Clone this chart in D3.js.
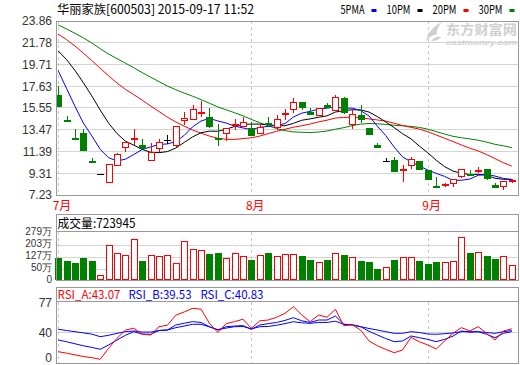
<!DOCTYPE html>
<html><head><meta charset="utf-8">
<script src="https://cdn.jsdelivr.net/npm/d3@7"></script>
<style>body{margin:0;background:#fff;}svg{display:block;}</style>
</head><body>
<svg id="c" width="520" height="365"></svg>
<script>
// ---- data ----
const title = "华丽家族[600503] 2015-09-17 11:52";
const months = ["7月", "8月", "9月"];
const monthStarts = [0, 23, 44];
const opens  = [16.79,14.40,12.70,13.13,10.50,9.24,8.35,10.03,11.69,12.64,11.98,10.45,11.60,12.52,11.94,14.33,14.37,15.05,14.68,12.68,13.03,13.93,13.76,13.66,13.03,14.10,13.60,14.95,15.32,16.09,15.19,14.78,15.83,15.29,16.47,13.92,14.88,13.60,12.01,10.51,10.58,9.65,10.03,10.48,9.62,8.09,8.15,8.25,8.98,9.27,9.58,9.69,8.19,7.97,8.63];
const highs  = [17.65,14.81,13.51,13.54,10.80,9.24,10.16,11.27,12.27,13.51,12.55,12.17,12.55,12.96,13.82,15.13,15.83,16.21,15.57,13.99,13.60,14.52,14.66,14.18,14.00,14.66,14.90,15.42,16.47,16.09,15.57,15.57,16.00,16.79,16.62,15.35,15.83,13.60,12.17,10.74,10.89,10.10,10.83,10.48,9.62,8.98,8.40,8.73,9.69,9.62,9.88,9.69,8.35,8.57,8.73];
const lows   = [15.60,14.18,12.65,11.40,10.26,9.24,8.35,10.03,11.37,12.01,11.63,10.45,11.31,12.10,11.85,13.92,14.37,14.71,13.66,11.88,12.39,13.47,13.76,12.90,13.03,13.95,13.44,14.40,15.04,15.35,14.90,14.78,15.54,15.29,14.94,13.51,14.14,12.97,11.69,10.41,9.46,8.50,9.69,9.62,8.66,7.87,8.02,8.02,8.83,9.18,9.30,8.66,7.87,7.71,8.35];
const closes = [15.67,14.18,12.65,11.46,10.46,9.24,10.16,11.12,12.27,12.72,11.63,11.37,12.32,12.52,13.82,14.62,15.42,15.13,13.76,12.61,13.60,13.99,14.24,12.90,13.76,14.03,14.52,15.05,16.09,15.57,14.90,15.57,15.54,16.57,15.04,14.94,14.40,12.97,11.69,10.51,9.46,9.72,10.64,9.62,8.66,7.87,8.25,8.73,9.69,9.24,9.66,8.73,7.87,8.57,8.68];
// moving-average values at the start of the window (earlier sessions are off the chart)
const ma5Lead  = [19.10,17.40,15.70,14.10];
const ma10Lead = [21.00,20.17,19.13,17.95,16.70,15.35,14.10,13.10,12.38];
const ma20Lead = [22.60,22.08,21.47,20.78,20.08,19.34,18.62,17.93,17.33,16.82,16.30,15.74,15.21,14.67,14.21,13.81,13.44,13.14,12.86];
const ma30Lead = [23.48,23.10,22.68,22.25,21.76,21.21,20.70,20.26,19.83,19.39,18.93,18.49,18.07,17.65,17.29,16.98,16.67,16.35,16.00,15.65,15.37,15.09,14.80,14.45,14.14,13.85,13.58,13.38,13.26];
const volumes = [128,109,98,127,109,29,205,154,142,234,109,142,136,142,96,228,177,171,150,155,127,154,136,115,142,155,136,148,148,136,115,102,115,154,144,131,109,104,63,75,115,131,131,109,92,104,102,108,246,155,159,138,121,136,85];
const rsiA = [14.7,12.8,10.7,8.7,7.3,5.2,18.9,31.3,41.5,43.8,36.5,35.4,45.7,47.6,60.0,64.0,68.5,67.5,50.0,38.5,49.5,52.0,55.0,43.7,53.0,54.0,57.4,62.3,70.5,60.2,51.9,60.2,57.4,67.3,46.9,48.0,41.6,28.0,22.0,17.5,13.4,16.8,32.5,27.0,23.0,18.0,28.0,37.5,44.5,40.4,45.7,37.5,29.2,40.4,43.07];
const rsiB = [29.2,27.0,24.5,22.0,20.0,17.6,23.0,29.2,35.0,39.5,36.5,36.3,41.0,41.6,47.8,50.0,52.0,51.0,45.7,41.6,45.7,46.5,47.0,42.5,47.8,49.5,51.0,53.5,56.9,53.0,51.0,54.0,54.0,59.0,48.7,48.0,45.7,40.0,35.4,31.0,27.1,28.0,34.2,32.0,30.0,27.1,30.0,34.0,40.4,38.8,39.5,36.3,32.1,37.5,39.53];
const rsiC = [42.5,41.0,39.5,38.0,36.5,33.3,35.0,37.5,39.5,40.4,39.0,39.0,41.0,41.6,44.5,46.5,48.7,48.7,45.5,42.0,44.0,45.7,46.0,43.0,45.7,46.0,47.5,49.5,51.9,50.5,49.9,51.0,51.0,52.5,48.7,48.0,45.7,43.5,41.6,39.5,37.5,37.5,39.5,38.5,36.6,36.3,37.0,38.0,39.5,39.5,39.5,38.5,37.5,39.5,40.83];
const priceTicks = [23.86,21.78,19.71,17.63,15.55,13.47,11.39,9.31,7.23];
const volTickLabels = ["279万","203万","127万","50万","0"];
const rsiTicks = [77,40,0];
const volumeLabel = "成交量:723945";
const rsiLabels = [["RSI_A:43.07","#ff0000"],["RSI_B:39.53","#0000ff"],["RSI_C:40.83","#0000ff"]];
const legend = [["5PMA","#0000ff"],["10PM","#000000"],["20PM","#ff0000"],["30PM","#008000"]];

// ---- layout ----
const RED="#ff0000", GREEN="#008000", BLUE="#0000ff", GRID="#d4d4d4", FRAME="#999";
const L=56.5, R=518.5;
const P={top:21, bot:195}, VH={top:214.5, bot:231.5}, V={top:231.5, bot:280.5}, RH={top:287.5, bot:301.5}, RS={top:301.5, bot:363.5};
const n = closes.length;
const svg = d3.select("#c");
const x = d3.scaleLinear().domain([0, n-1]).range([58.2, 511.8]);
const yP = d3.scaleLinear().domain([7.23, 23.86]).range([P.bot, P.top]);
const yV = d3.scaleLinear().domain([0, 279]).range([280, 231.7]);
const yVt = d3.scalePoint().domain(volTickLabels).range([231.7, 279.5]);
const yR = d3.scaleLinear().domain([0, 77]).range([363.5, 301.5]);
const FONT = "'Noto Sans CJK SC', 'DejaVu Sans', sans-serif";
const AXF = "'Liberation Sans', Arial, sans-serif";

function ma(lead, k){ return closes.map((c,i)=> i<lead.length ? lead[i] : d3.mean(closes.slice(i-k+1,i+1))); }
function txt(xx, yy, s, size, col, len){
  const t = svg.append("text").attr("x",xx).attr("y",yy).attr("font-family",FONT).attr("font-size",size).attr("fill",col).text(s);
  if (len) t.attr("textLength",len).attr("lengthAdjust","spacingAndGlyphs");
  return t;
}

// ---- header ----
txt(57, 14, title, 12.5, "#000", 197);
const legX=[340.5,386.5,432.5,478.5];
legend.forEach((d,i)=>{
  txt(legX[i], 14, d[0], 12, "#000", 24);
  svg.append("rect").attr("x",legX[i]+31).attr("y",9).attr("width",5).attr("height",3).attr("fill",d[1]);
});

// ---- watermark ----
const wm = svg.append("g").attr("fill","#cfcfcf");
wm.append("path").attr("d","M426,41 C428,33 433,26 442,22 C438,27 436,31 437,35 C433,34 430,37 426,41 Z M431,41 C434,37 438,36 441,37 C440,39 436,41 431,41 Z");
wm.append("text").attr("x",446).attr("y",34).attr("font-family",FONT).attr("font-size",13).attr("font-weight","bold").attr("textLength",71).attr("lengthAdjust","spacingAndGlyphs").text("东方财富网");
wm.append("text").attr("x",446).attr("y",45).attr("font-family",AXF).attr("font-size",7.5).attr("font-weight","bold").attr("font-style","italic").attr("textLength",71).attr("lengthAdjust","spacingAndGlyphs").text("eastmoney.com");

// ---- grids, frames ----
function hline(y, color){ svg.append("line").attr("x1",L).attr("x2",R).attr("y1",Math.round(y)+0.5).attr("y2",Math.round(y)+0.5).attr("stroke",color).attr("shape-rendering","crispEdges"); }
function vdash(top, bot){ monthStarts.forEach(i=>{ const xx=Math.round(x(i))+0.5; svg.append("line").attr("x1",xx).attr("x2",xx).attr("y1",top).attr("y2",bot).attr("stroke","#c8c8c8").attr("stroke-dasharray","3,3").attr("shape-rendering","crispEdges"); }); }
function frame(t,b){ svg.append("rect").attr("x",L).attr("y",t).attr("width",R-L).attr("height",b-t).attr("fill","none").attr("stroke",FRAME).attr("shape-rendering","crispEdges"); }

// price panel
priceTicks.forEach(v=>{ if(v!==priceTicks[0] && v!==priceTicks[priceTicks.length-1]) hline(yP(v)-0.5, GRID); });
vdash(P.top, P.bot);
priceTicks.forEach(v=> svg.append("text").attr("x",52).attr("y",yP(v)).attr("dy","0.36em").attr("text-anchor","end").attr("font-family",AXF).attr("font-size",12).attr("fill","#333").text(v.toFixed(2)));

// month labels
months.forEach((m,i)=> txt(x(monthStarts[i])-5.5, 210, m, 12, RED));

svg.append("defs").append("clipPath").attr("id","pc").append("rect").attr("x",L).attr("y",P.top).attr("width",R-L).attr("height",P.bot-P.top);
const gP = svg.append("g").attr("clip-path","url(#pc)");

// MA lines
const line = d3.line().x((d,i)=>x(i)).y(d=>yP(d));
[[ma(ma30Lead,30),GREEN],[ma(ma20Lead,20),RED],[ma(ma10Lead,10),"#000"],[ma(ma5Lead,5),BLUE]].forEach(([arr,col])=>{
  gP.append("path").attr("d",line(arr)).attr("fill","none").attr("stroke",col).attr("stroke-width",1);
});

// candles
closes.forEach((c,i)=>{
  const o=opens[i], xi=Math.round(x(i));
  const col = c>o ? RED : (c<o ? GREEN : "#000");
  gP.append("line").attr("x1",xi+0.5).attr("x2",xi+0.5).attr("y1",yP(highs[i])).attr("y2",yP(lows[i])).attr("stroke",col).attr("shape-rendering","crispEdges");
  const t=Math.round(yP(Math.max(o,c))), b=Math.round(yP(Math.min(o,c)));
  if (c===o){
    gP.append("rect").attr("x",xi-3).attr("y",t).attr("width",7).attr("height",1).attr("fill","#000").attr("shape-rendering","crispEdges");
  } else if (b-t<=2){
    gP.append("rect").attr("x",xi-3).attr("y",t).attr("width",7).attr("height",Math.max(2,b-t)).attr("fill",col).attr("shape-rendering","crispEdges");
  } else if (c>o){
    gP.append("rect").attr("x",xi-2.5).attr("y",t+0.5).attr("width",6).attr("height",b-t-1).attr("fill","#fff").attr("stroke",RED).attr("shape-rendering","crispEdges");
  } else {
    gP.append("rect").attr("x",xi-3).attr("y",t).attr("width",7).attr("height",b-t).attr("fill",GREEN).attr("shape-rendering","crispEdges");
  }
});
frame(P.top+0.5, P.bot+0.5);

// ---- volume panel ----
frame(VH.top, VH.bot);
txt(57.5, 228, volumeLabel, 12.5, "#000", 78);
volTickLabels.forEach((s,k)=>{ if(k>0 && k<volTickLabels.length-1) hline(yVt(s)+1, GRID); });
vdash(V.top, V.bot);
volTickLabels.forEach(s=> svg.append("text").attr("x",52).attr("y",yVt(s)).attr("dy","0.36em").attr("text-anchor","end").attr("font-family",AXF).attr("font-size",10).attr("fill","#333").text(s));
volumes.forEach((v,i)=>{
  const xi=Math.round(x(i)), t=Math.round(yV(v)), b=280;
  if (closes[i]>=opens[i]){
    svg.append("rect").attr("x",xi-2.5).attr("y",t+0.5).attr("width",6).attr("height",b-t-1).attr("fill","#fff").attr("stroke",RED).attr("shape-rendering","crispEdges");
  } else {
    svg.append("rect").attr("x",xi-3).attr("y",t).attr("width",7).attr("height",b-t).attr("fill",GREEN).attr("shape-rendering","crispEdges");
  }
});
frame(V.top, V.bot);

// ---- RSI panel ----
frame(RH.top, RH.bot);
const rx=[57.5,128.5,200.5];
rsiLabels.forEach((d,k)=> txt(rx[k], 298.5, d[0], 12, d[1], 63));
hline(yR(40)+1, GRID);
vdash(RS.top, RS.bot);
rsiTicks.forEach(v=> svg.append("text").attr("x",52).attr("y",Math.min(yR(v)+1,357.5)).attr("dy","0.36em").attr("text-anchor","end").attr("font-family",AXF).attr("font-size",12).attr("fill","#333").text(v));
const rl = d3.line().x((d,i)=>x(i)).y(d=>yR(d));
[[rsiC,BLUE],[rsiB,BLUE],[rsiA,RED]].forEach(([arr,col])=> svg.append("path").attr("d",rl(arr)).attr("fill","none").attr("stroke",col).attr("stroke-width",1));
frame(RS.top, RS.bot);
</script>
</body></html>
